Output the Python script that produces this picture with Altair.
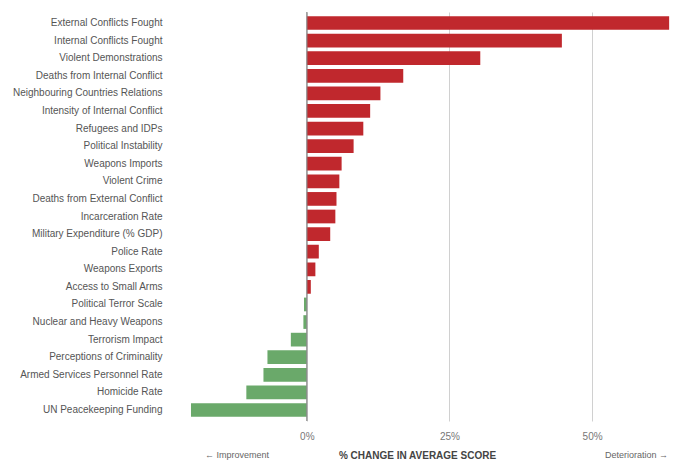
import altair as alt
import pandas as pd

categories = [
    "External Conflicts Fought", "Internal Conflicts Fought", "Violent Demonstrations",
    "Deaths from Internal Conflict", "Neighbouring Countries Relations",
    "Intensity of Internal Conflict", "Refugees and IDPs", "Political Instability",
    "Weapons Imports", "Violent Crime", "Deaths from External Conflict",
    "Incarceration Rate", "Military Expenditure (% GDP)", "Police Rate",
    "Weapons Exports", "Access to Small Arms", "Political Terror Scale",
    "Nuclear and Heavy Weapons", "Terrorism Impact", "Perceptions of Criminality",
    "Armed Services Personnel Rate", "Homicide Rate", "UN Peacekeeping Funding",
]
values = [63.5, 44.7, 30.4, 16.9, 12.9, 11.1, 9.9, 8.2, 6.1, 5.7, 5.2, 5.0, 4.1,
          2.1, 1.5, 0.7, -0.5, -0.6, -2.8, -6.9, -7.6, -10.6, -20.3]
tick_values = [0, 25, 50]

df = pd.DataFrame({"indicator": categories, "change": values})
df["dir"] = ["Deterioration" if v > 0 else "Improvement" for v in values]

FONT = "Liberation Sans"
W, H = 483, 409

bars = alt.Chart(df).mark_bar().encode(
    y=alt.Y("indicator:N", sort=None,
            scale=alt.Scale(paddingInner=0.22, paddingOuter=0.235),
            axis=alt.Axis(title=None, ticks=False, domain=False, labelPadding=25,
                          labelFont=FONT, labelFontSize=10, labelColor="#555555",
                          minExtent=179, maxExtent=179)),
    x=alt.X("change:Q", scale=alt.Scale(domain=[-21, 63.65], nice=False),
            axis=alt.Axis(values=tick_values, labelExpr="datum.value + '%'",
                          grid=True, gridColor="#d0d0d0", gridWidth=1,
                          ticks=False, domain=False, labelPadding=10,
                          labelFont=FONT, labelFontSize=10, labelColor="#777777",
                          title="% CHANGE IN AVERAGE SCORE", titleFont=FONT,
                          titleFontSize=10, titleFontWeight="bold", titleColor="#444444",
                          titleX=230, titleAlign="center", titlePadding=9)),
    color=alt.Color("dir:N", scale=alt.Scale(domain=["Deterioration", "Improvement"],
                                             range=["#c0282d", "#6aa96a"]), legend=None),
)

zero = alt.Chart(pd.DataFrame({"z": [0]})).mark_rule(color="#888888", strokeWidth=1.2).encode(
    x=alt.X("z:Q")
)

improve = alt.Chart(pd.DataFrame({"t": ["\u2190 Improvement"]})).mark_text(
    font=FONT, fontSize=9, color="#666666", align="left", baseline="middle"
).encode(text="t:N", x=alt.value(18), y=alt.value(H + 34))

deter = alt.Chart(pd.DataFrame({"t": ["Deterioration \u2192"]})).mark_text(
    font=FONT, fontSize=9, color="#666666", align="right", baseline="middle"
).encode(text="t:N", x=alt.value(W - 2), y=alt.value(H + 34))

chart = alt.layer(bars, zero, improve, deter).properties(
    width=W, height=H, padding={"left": 0, "top": 3, "right": 0, "bottom": 0}
).configure(background="white").configure_view(stroke=None)

chart.save("out.html", embed_options={"renderer": "svg", "actions": False})
